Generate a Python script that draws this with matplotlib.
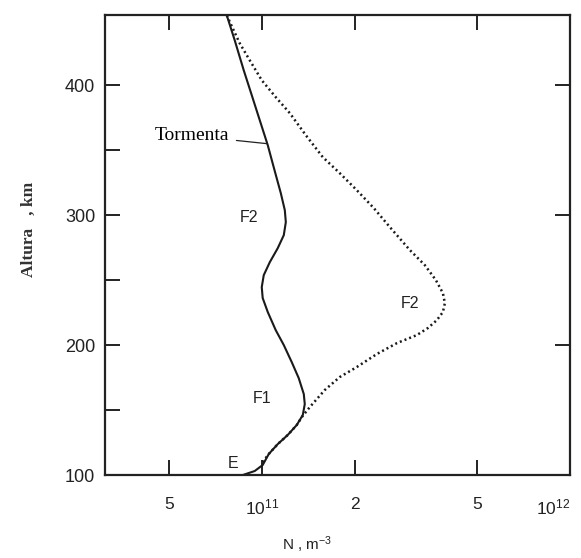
import matplotlib
matplotlib.use("Agg")
import matplotlib.pyplot as plt
import matplotlib.transforms as mtransforms

# electron density profiles (N in m^-3, height in km)
storm_n = [7.70e10, 8.17e10, 8.74e10, 9.28e10, 9.85e10, 1.046e11, 1.10e11, 1.153e11,
           1.188e11, 1.197e11, 1.179e11, 1.127e11, 1.062e11, 1.015e11, 1.00e11, 1.007e11,
           1.046e11, 1.11e11, 1.179e11, 1.251e11, 1.318e11, 1.369e11, 1.379e11, 1.359e11,
           1.299e11, 1.214e11, 1.127e11, 1.054e11, 1.007e11, 9.49e10, 8.68e10]
storm_h = [453.8, 434.6, 411.5, 392.3, 373.1, 353.8, 334.6, 316.9,
           303.8, 294.6, 284.6, 274.6, 263.8, 253.8, 244.6, 236.2,
           225.4, 211.5, 200.0, 186.9, 174.6, 162.3, 154.6, 146.2,
           138.5, 130.8, 123.8, 116.2, 107.7, 103.1, 100.0]

quiet_n = [7.70e10, 8.05e10, 8.48e10, 9.14e10, 1.00e11, 1.11e11, 1.233e11, 1.39e11,
           1.578e11, 1.791e11, 2.034e11, 2.31e11, 2.604e11, 3.024e11, 3.382e11, 3.672e11,
           3.87e11, 3.928e11, 3.87e11, 3.70e11, 3.459e11, 3.186e11, 2.744e11, 2.362e11,
           2.034e11, 1.791e11, 1.601e11, 1.432e11, 1.349e11, 1.299e11, 1.214e11, 1.127e11,
           1.054e11, 1.007e11]
quiet_h = [453.8, 443.8, 432.3, 419.2, 403.8, 390.8, 378.5, 361.5,
           344.6, 332.3, 319.2, 305.4, 290.8, 273.1, 261.5, 250.0,
           240.0, 232.3, 225.4, 219.2, 213.1, 207.7, 201.5, 193.1,
           183.1, 175.4, 165.4, 152.3, 144.6, 138.5, 130.8, 123.8,
           116.2, 110.0]

xticks = [5e10, 1e11, 2e11, 5e11, 1e12]
xtick_labels = ["5", "$10^{11}$", "2", "5", "$10^{12}$"]
yticks = [100, 200, 300, 400]

plt.rcParams["font.family"] = ["Liberation Sans", "DejaVu Sans"]
plt.rcParams["mathtext.default"] = "regular"

fig = plt.figure(figsize=(5.81, 5.58), dpi=100)
ax = fig.add_axes([0.1807, 0.1487, 0.8003, 0.8244])

ax.plot(storm_n, storm_h, color="#1a1a1a", lw=1.5)
ax.plot(quiet_n, quiet_h, color="#1a1a1a", lw=1.8, linestyle=(0, (0.8, 1.2)))

ax.set_xscale("log")
ax.set_xlim(3.1e10, 1e12)
ax.set_ylim(100, 454)

ax.set_xticks(xticks)
ax.set_xticklabels(xtick_labels, fontsize=12.5, color="#222222")
ax.xaxis.set_minor_locator(matplotlib.ticker.NullLocator())
ax.set_yticks(yticks)
ax.set_yticks([150, 250, 350], minor=True)
ax.tick_params(axis="y", labelsize=13, labelcolor="#222222")

ax.tick_params(which="both", direction="in", length=11, width=1.4, color="#222222")
ax.tick_params(axis="x", pad=16)
ax.tick_params(axis="y", pad=7, right=True)
ax.tick_params(axis="y", which="minor", right=False)
ax.tick_params(axis="x", top=True)

# the 10^12 label sits a little left of the corner in the original
lab12 = ax.get_xticklabels()[-1]
lab12.set_transform(lab12.get_transform() +
                    mtransforms.ScaledTranslation(-12 / 72, 0, fig.dpi_scale_trans))

for s in ax.spines.values():
    s.set_linewidth(1.6)
    s.set_color("#222222")

ax.set_xlabel("N , m$^{-3}$", fontsize=11, color="#222222")
ax.xaxis.set_label_coords(0.434, -0.13)
ax.set_ylabel("Altura   , km", family=["Liberation Serif", "DejaVu Sans"],
              fontsize=12.5, fontweight="bold", color="#333333")
ax.yaxis.set_label_coords(-0.146, 0.533)

ax.annotate("Tormenta", xy=(1.04e11, 355), xytext=(5.95e10, 361),
            ha="center", va="center", fontsize=14,
            family=["Liberation Serif", "DejaVu Serif"],
            arrowprops=dict(arrowstyle="-", color="#222222", lw=0.9,
                            shrinkA=3, shrinkB=0))
ax.text(9.1e10, 298, "F2", ha="center", va="center", fontsize=11.5, color="#222222")
ax.text(3.02e11, 232, "F2", ha="center", va="center", fontsize=11.5, color="#222222")
ax.text(1.0e11, 159, "F1", ha="center", va="center", fontsize=11.5, color="#222222")
ax.text(8.05e10, 109, "E", ha="center", va="center", fontsize=11.5, color="#222222")

fig.savefig("out.png", dpi=100)
